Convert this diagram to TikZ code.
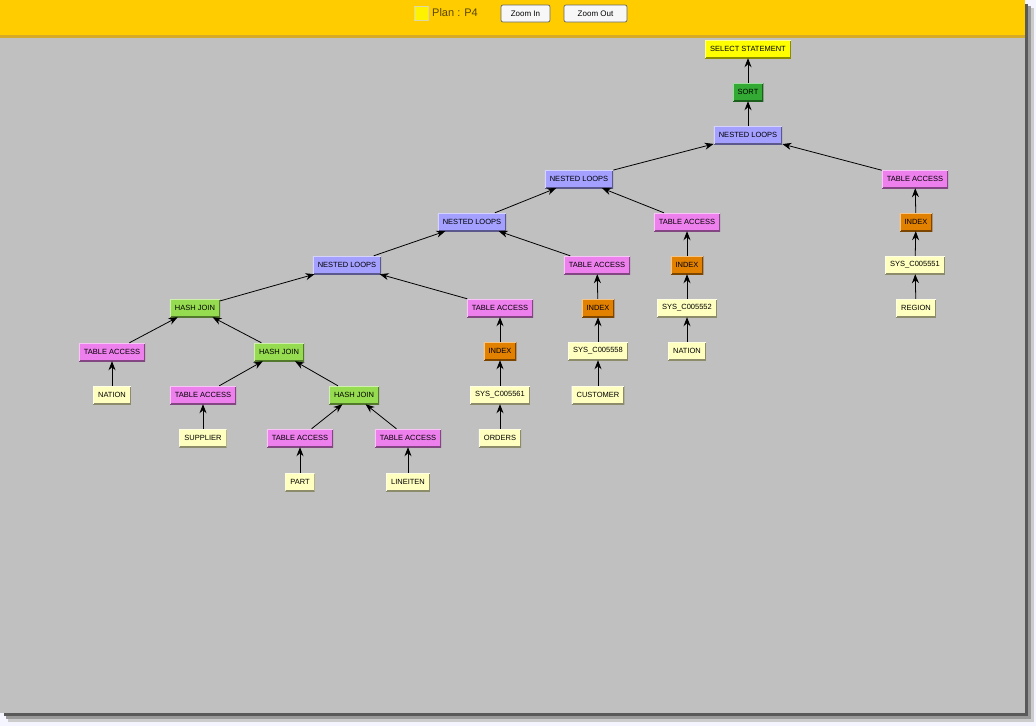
\documentclass[tikz,border=0pt]{standalone}
\usepackage{fontspec}
\setmainfont{Liberation Sans}
\setsansfont{Liberation Sans}
\usetikzlibrary{arrows.meta}

\definecolor{bargold}{RGB}{255,204,0}
\definecolor{barline}{RGB}{212,170,40}
\definecolor{canvas}{RGB}{192,192,192}
\definecolor{selcol}{RGB}{255,255,0}
\definecolor{sortcol}{RGB}{51,170,51}
\definecolor{loopcol}{RGB}{164,160,255}
\definecolor{accesscol}{RGB}{238,128,238}
\definecolor{indexcol}{RGB}{226,128,0}
\definecolor{leafcol}{RGB}{255,255,192}
\definecolor{hashcol}{RGB}{150,220,80}
\definecolor{plantext}{RGB}{90,70,0}

\tikzset{
  op/.style={fill=#1, font=\fontsize{7.5}{8}\selectfont,
    text=black, inner xsep=5pt, inner ysep=0pt, minimum height=18pt,
    path picture={
      \draw[#1!55!black, line width=2pt] (path picture bounding box.north east) --
        (path picture bounding box.south east) -- (path picture bounding box.south west);
      \draw[white!55!#1, line width=2pt] (path picture bounding box.south west) --
        (path picture bounding box.north west) -- (path picture bounding box.north east);
    }},
  btn/.style={draw=black!60, fill=white!94!gray, rounded corners=2pt, line width=0.7pt,
    font=\fontsize{8}{9}\selectfont, minimum height=17pt, inner sep=0pt}
}

\begin{document}
\begin{tikzpicture}[x=1pt, y=-1pt, >={Stealth[length=9pt,width=7pt]}]
\useasboundingbox (0,0) rectangle (1036,726);
\fill[white!96!blue] (0,0) rectangle (1036,726);
% window and shadow
\fill[black!20] (8,8) rectangle (1034,722);
\fill[black!40] (6,6) rectangle (1031,719);
\fill[black!65] (4,4) rectangle (1028,716);
\fill[canvas] (0,0) rectangle (1025,713);
\fill[bargold] (0,0) rectangle (1025,35);
\fill[barline] (0,35) rectangle (1025,38);

% header
\node[draw=yellow!60!black!40, fill=yellow, minimum size=14pt, inner sep=0pt] (sq) at (421,13) {};
\node[anchor=west, text=plantext, font=\fontsize{11}{12}\selectfont, inner sep=0pt] (plan) at (432,13) {Plan : P4};
\node[btn, minimum width=49pt] (zoomin) at (525.5,13.5) {Zoom In};
\node[btn, minimum width=63pt] (zoomout) at (595.5,13.5) {Zoom Out};

% plan tree
\node[op=selcol] (sel) at (748,49) {SELECT STATEMENT};
\node[op=sortcol] (sort) at (748,92) {SORT};
\node[op=loopcol] (nla) at (748,135) {NESTED LOOPS};
\node[op=accesscol] (taa) at (915,179) {TABLE ACCESS};
\node[op=indexcol] (ixa) at (916,222) {INDEX};
\node[op=leafcol] (sysa) at (915,265) {SYS\_C005551};
\node[op=leafcol] (region) at (916,308) {REGION};

\node[op=loopcol] (nlb) at (579,179) {NESTED LOOPS};
\node[op=accesscol] (tab) at (687,222) {TABLE ACCESS};
\node[op=indexcol] (ixb) at (687,265) {INDEX};
\node[op=leafcol] (sysb) at (687,308) {SYS\_C005552};
\node[op=leafcol] (nation) at (687,351) {NATION};

\node[op=loopcol] (nlc) at (472,222) {NESTED LOOPS};
\node[op=accesscol] (tac) at (597,265) {TABLE ACCESS};
\node[op=indexcol] (ixc) at (598,308) {INDEX};
\node[op=leafcol] (sysc) at (598,351) {SYS\_C005558};
\node[op=leafcol] (customer) at (598,395) {CUSTOMER};

\node[op=loopcol] (nld) at (347,265) {NESTED LOOPS};
\node[op=accesscol] (tad) at (500,308) {TABLE ACCESS};
\node[op=indexcol] (ixd) at (500,351) {INDEX};
\node[op=leafcol] (sysd) at (500,395) {SYS\_C005561};
\node[op=leafcol] (orders) at (500,438) {ORDERS};

\node[op=hashcol] (hja) at (195,308) {HASH JOIN};
\node[op=accesscol] (tae) at (112,352) {TABLE ACCESS};
\node[op=leafcol] (nationb) at (112,395) {NATION};
\node[op=hashcol] (hjb) at (279,352) {HASH JOIN};
\node[op=accesscol] (taf) at (203,395) {TABLE ACCESS};
\node[op=leafcol] (supplier) at (203,438) {SUPPLIER};
\node[op=hashcol] (hjc) at (354,395) {HASH JOIN};
\node[op=accesscol] (tag) at (300,438) {TABLE ACCESS};
\node[op=leafcol] (part) at (300,482) {PART};
\node[op=accesscol] (tah) at (408,438) {TABLE ACCESS};
\node[op=leafcol] (lineiten) at (408,482) {LINEITEN};

% child -> parent
\foreach \a/\b in {sort/sel, nla/sort, nlb/nla, taa/nla, ixa/taa, sysa/ixa, region/sysa,
  nlc/nlb, tab/nlb, ixb/tab, sysb/ixb, nation/sysb, nld/nlc, tac/nlc, ixc/tac, sysc/ixc,
  customer/sysc, hja/nld, tad/nld, ixd/tad, sysd/ixd, orders/sysd, tae/hja, hjb/hja,
  nationb/tae, taf/hjb, hjc/hjb, supplier/taf, tag/hjc, tah/hjc, part/tag, lineiten/tah}
  \draw[->, line width=0.8pt] (\a) -- (\b);
\end{tikzpicture}
\end{document}
